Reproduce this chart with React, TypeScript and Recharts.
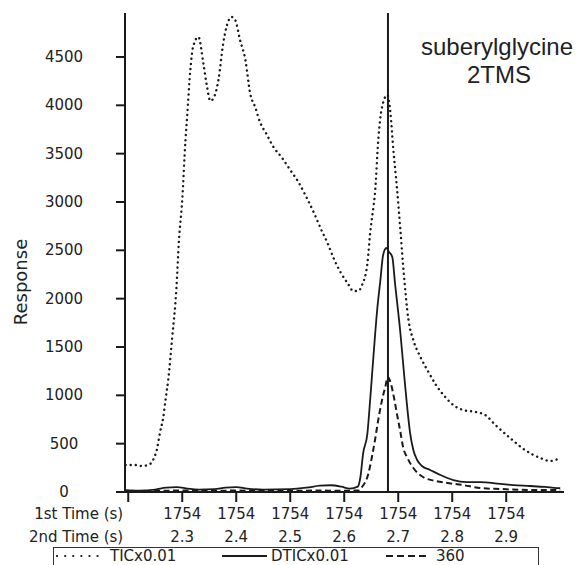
import { LineChart, Line, XAxis, YAxis, ReferenceLine, Legend, Customized } from 'recharts';

// TIC x0.01 (dotted)
const ticTime = [
  2.195, 2.213, 2.224, 2.237, 2.246, 2.254, 2.259, 2.265, 2.269, 2.274, 2.281, 2.289, 2.294, 2.3,
  2.306, 2.309, 2.315, 2.32, 2.33, 2.339, 2.346, 2.352, 2.359, 2.367, 2.376, 2.383, 2.391, 2.398,
  2.407, 2.417, 2.426, 2.435, 2.444, 2.456, 2.469, 2.485, 2.5, 2.515, 2.528, 2.544, 2.556, 2.569,
  2.581, 2.594, 2.606, 2.617, 2.626, 2.633, 2.643, 2.648, 2.654, 2.657, 2.663, 2.67, 2.68, 2.685,
  2.691, 2.698, 2.704, 2.709, 2.719, 2.728, 2.741, 2.756, 2.77, 2.787, 2.802, 2.82, 2.843, 2.861,
  2.88, 2.907, 2.935, 2.963, 2.981, 3.0,
];
const ticValue = [
  280, 279, 269, 279, 331, 465, 621, 776, 952, 1159, 1572, 2090, 2607, 3021,
  3641, 3879, 4365, 4603, 4707, 4438, 4190, 4045, 4086, 4262, 4645, 4831, 4914, 4883,
  4676, 4469, 4117, 3983, 3827, 3703, 3569, 3455, 3331, 3207, 3072, 2886, 2731, 2576,
  2410, 2265, 2162, 2079, 2079, 2141, 2369, 2679, 2948, 3093, 3641, 3983, 4107, 3952,
  3538, 3124, 2710, 2348, 1779, 1572, 1397, 1241, 1107, 983, 900, 848, 828, 797,
  693, 559, 434, 352, 321, 352,
];

// DTIC x0.01 (solid)
const dticTime = [
  2.195, 2.22, 2.25, 2.27, 2.29, 2.31, 2.33, 2.36, 2.38, 2.4, 2.42, 2.45, 2.5, 2.53, 2.555, 2.575,
  2.595, 2.61, 2.625, 2.63, 2.635, 2.643, 2.648, 2.654, 2.661, 2.667, 2.672, 2.678, 2.683, 2.689,
  2.694, 2.704, 2.713, 2.722, 2.728, 2.735, 2.744, 2.759, 2.778, 2.802, 2.826, 2.852, 2.889, 2.913,
  2.944, 2.972, 2.994, 3.0,
];
const dticValue = [
  20, 15, 25, 45, 50, 35, 25, 30, 45, 50, 35, 25, 30, 45, 65, 70,
  55, 35, 55, 155, 400, 610, 952, 1397, 1883, 2193, 2452, 2524, 2483, 2431,
  2162, 1645, 1086, 610, 434, 331, 269, 228, 176, 124, 103, 103, 83, 72,
  62, 52, 41, 40,
];

// m/z 360 (dashed)
const ionTime = [
  2.195, 2.25, 2.3, 2.35, 2.4, 2.45, 2.5, 2.55, 2.6, 2.628, 2.633, 2.644, 2.652, 2.657, 2.663, 2.67,
  2.676, 2.681, 2.687, 2.693, 2.698, 2.704, 2.709, 2.717, 2.728, 2.746, 2.769, 2.791, 2.82, 2.852,
  2.889, 2.944, 2.994, 3.0,
];
const ionValue = [
  10, 12, 15, 10, 15, 10, 12, 15, 12, 18, 52, 176, 383, 538, 745, 952,
  1086, 1190, 1107, 952, 797, 621, 465, 352, 248, 155, 114, 93, 72, 41,
  31, 21, 21, 20,
];

const xTicks = [2.2, 2.3, 2.4, 2.5, 2.6, 2.7, 2.8, 2.9];
const firstTimeLabel = '1754';
const yTicks = [0, 500, 1000, 1500, 2000, 2500, 3000, 3500, 4000, 4500];
const markerTime = 2.681;

const ticData = ticTime.map((t, i) => ({ t, v: ticValue[i] }));
const dticData = dticTime.map((t, i) => ({ t, v: dticValue[i] }));
const ionData = ionTime.map((t, i) => ({ t, v: ionValue[i] }));

const INK = '#1a1a1a';
const TEXT = '#222';
const SANS = '"DejaVu Sans", Verdana, sans-serif';

const TimeTick = (props: any) => {
  const { x, y, payload, index } = props;
  const style = { fontFamily: SANS, fontSize: 15, fill: TEXT };
  if (index === 0) {
    return (
      <g>
        <text x={x - 5} y={y + 15} textAnchor="end" style={style}>1st Time (s)</text>
        <text x={x - 5} y={y + 38} textAnchor="end" style={style}>2nd Time (s)</text>
      </g>
    );
  }
  return (
    <g>
      <text x={x} y={y + 15} textAnchor="middle" style={style}>{firstTimeLabel}</text>
      <text x={x} y={y + 38} textAnchor="middle" style={style}>{Number(payload.value).toFixed(1)}</text>
    </g>
  );
};

const ResponseTick = (props: any) => {
  const { x, y, payload } = props;
  return (
    <text x={x - 50} y={y + 5} textAnchor="middle" style={{ fontFamily: SANS, fontSize: 15, fill: TEXT }}>
      {payload.value}
    </text>
  );
};

const Annotations = () => (
  <g>
    <text x={27} y={282} transform="rotate(-90 27 282)" textAnchor="middle"
      style={{ fontFamily: SANS, fontSize: 18, fill: TEXT }}>Response</text>
    <text x={497} y={55} textAnchor="middle"
      style={{ fontFamily: '"Liberation Sans", Arial, sans-serif', fontSize: 24, fill: TEXT }}>suberylglycine</text>
    <text x={499} y={83} textAnchor="middle"
      style={{ fontFamily: '"Liberation Sans", Arial, sans-serif', fontSize: 24, fill: TEXT }}>2TMS</text>
  </g>
);

const LegendBox = () => {
  const style = { fontFamily: SANS, fontSize: 15, fill: TEXT };
  return (
    <svg width={487} height={18} style={{ display: 'block', overflow: 'visible' }}>
      <rect x={0.5} y={0.5} width={485} height={40} fill="none" stroke="#333" strokeWidth={1} />
      <line x1={4} y1={9} x2={46} y2={9} stroke={INK} strokeWidth={2.2} strokeLinecap="round" strokeDasharray="0.1 8" />
      <text x={57} y={14} style={style}>TICx0.01</text>
      <line x1={169} y1={9} x2={214} y2={9} stroke={INK} strokeWidth={2} />
      <text x={218} y={14} style={style}>DTICx0.01</text>
      <line x1={333} y1={9} x2={376} y2={9} stroke={INK} strokeWidth={2} strokeDasharray="7 4" />
      <text x={383} y={14} style={style}>360</text>
    </svg>
  );
};

export default function App() {
  return (
    <div style={{ position: 'absolute', left: 0, top: 0, width: 576, height: 565, background: '#fff', overflow: 'hidden' }}>
      <LineChart width={576} height={565} margin={{ top: 13, right: 12, left: 0, bottom: 0 }}>
        <XAxis
          type="number"
          dataKey="t"
          domain={[2.194, 3.007]}
          allowDataOverflow
          ticks={xTicks}
          tick={<TimeTick />}
          tickSize={10}
          height={73}
          stroke={INK}
          strokeWidth={2}
          tickLine={{ stroke: INK, strokeWidth: 2 }}
          interval={0}
        />
        <YAxis
          type="number"
          dataKey="v"
          domain={[0, 4955]}
          allowDataOverflow
          ticks={yTicks}
          tick={<ResponseTick />}
          tickSize={9}
          width={125}
          stroke={INK}
          strokeWidth={2}
          tickLine={{ stroke: INK, strokeWidth: 2 }}
          interval={0}
        />
        <ReferenceLine x={markerTime} stroke={INK} strokeWidth={2} />
        <Line data={ticData} dataKey="v" type="monotone" stroke={INK} strokeWidth={2.4}
          strokeLinecap="round" strokeDasharray="0.1 5" dot={false} isAnimationActive={false} />
        <Line data={dticData} dataKey="v" type="monotone" stroke={INK} strokeWidth={1.8}
          dot={false} isAnimationActive={false} />
        <Line data={ionData} dataKey="v" type="monotone" stroke={INK} strokeWidth={2}
          strokeDasharray="6 3.5" dot={false} isAnimationActive={false} />
        <Customized component={Annotations} />
        <Legend
          layout="vertical"
          align="center"
          verticalAlign="middle"
          content={() => <LegendBox />}
          wrapperStyle={{ left: 53, top: 547, right: 'auto', bottom: 'auto', width: 487, height: 18 }}
        />
      </LineChart>
    </div>
  );
}
